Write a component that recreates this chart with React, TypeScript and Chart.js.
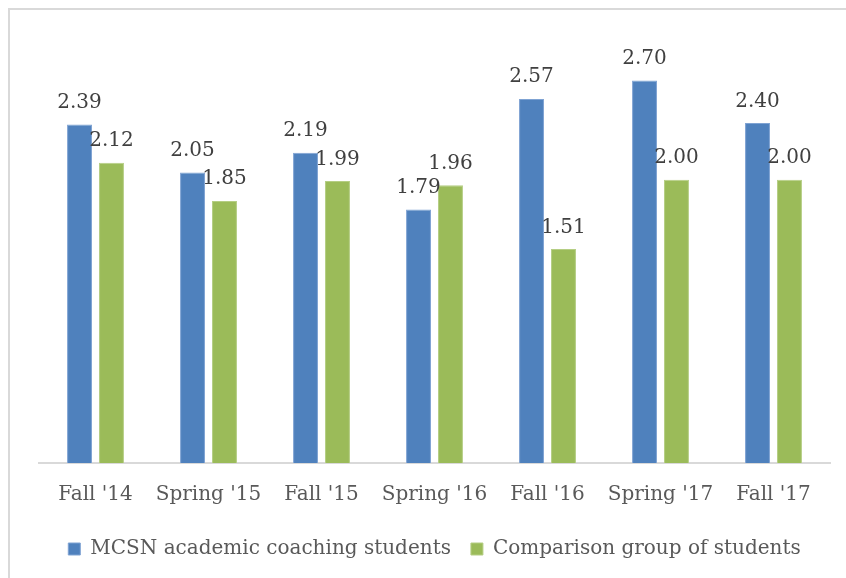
import React, { useEffect, useRef } from "react";
import { Chart, registerables } from "chart.js";

Chart.register(...registerables);

const categories = ["Fall '14", "Spring '15", "Fall '15", "Spring '16", "Fall '16", "Spring '17", "Fall '17"];
const coachingValues = [2.39, 2.05, 2.19, 1.79, 2.57, 2.7, 2.4];
const comparisonValues = [2.12, 1.85, 1.99, 1.96, 1.51, 2.0, 2.0];
const seriesNames = ["MCSN academic coaching students", "Comparison group of students"];

const FONT = "'DejaVu Serif', serif";

const dataLabelPlugin = {
  id: "dataLabels",
  afterDatasetsDraw(chart: any) {
    const ctx = chart.ctx;
    ctx.save();
    ctx.font = `20px ${FONT}`;
    ctx.fillStyle = "#404040";
    ctx.textAlign = "center";
    ctx.textBaseline = "alphabetic";
    chart.data.datasets.forEach((ds: any, di: number) => {
      const meta = chart.getDatasetMeta(di);
      meta.data.forEach((el: any, i: number) => {
        const v = ds.data[i] as number;
        ctx.fillText(v.toFixed(2), el.x, el.y - 16.5);
      });
    });
    ctx.restore();
  },
};

export default function App() {
  const ref = useRef<HTMLCanvasElement | null>(null);
  useEffect(() => {
    if (!ref.current) return;
    const chart = new Chart(ref.current, {
      type: "bar",
      data: {
        labels: categories,
        datasets: [
          {
            label: seriesNames[0],
            data: coachingValues,
            backgroundColor: "#4F81BD",
            borderColor: "#7FA3D3",
            borderWidth: 1,
            categoryPercentage: 0.566,
            barPercentage: 0.78,
          },
          {
            label: seriesNames[1],
            data: comparisonValues,
            backgroundColor: "#9BBB59",
            borderColor: "#B5CE84",
            borderWidth: 1,
            categoryPercentage: 0.566,
            barPercentage: 0.78,
          },
        ],
      },
      options: {
        animation: false,
        responsive: false,
        maintainAspectRatio: false,
        layout: { padding: { top: 28, left: 29, right: 16, bottom: 9 } },
        scales: {
          x: {
            grid: { display: false },
            border: { display: true, color: "#D9D9D9", width: 2 },
            ticks: {
              color: "#595959",
              font: { family: FONT, size: 20 },
              padding: 12,
              maxRotation: 0,
              autoSkip: false,
            },
          },
          y: {
            display: false,
            min: 0,
            max: 3,
          },
        },
        plugins: {
          legend: {
            position: "bottom",
            labels: {
              color: "#595959",
              font: { family: FONT, size: 20 },
              boxWidth: 12,
              boxHeight: 12,
              padding: 20,
              useBorderRadius: false,
            },
          },
          tooltip: { enabled: false },
        },
      },
      plugins: [dataLabelPlugin],
    });
    return () => chart.destroy();
  }, []);

  return (
    <div
      style={{
        position: "fixed",
        left: 8,
        top: 8,
        width: 838,
        height: 570,
        boxSizing: "border-box",
        borderTop: "2px solid #D9D9D9",
        borderLeft: "2px solid #D9D9D9",
        background: "#fff",
        overflow: "hidden",
      }}
    >
      <canvas ref={ref} width={836} height={568} style={{ display: "block" }} />
    </div>
  );
}
